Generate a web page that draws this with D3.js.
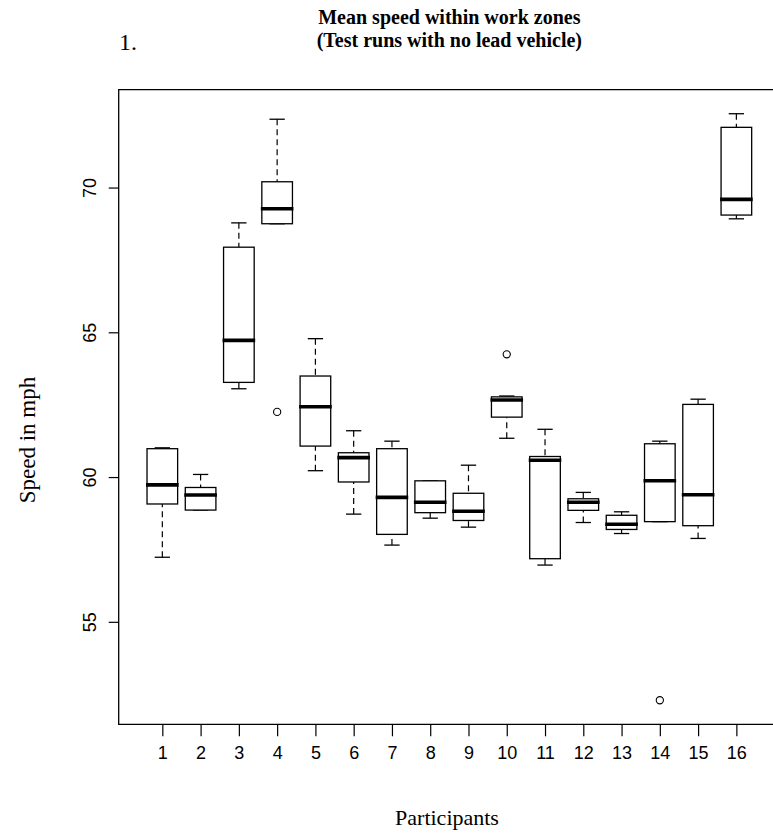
<!DOCTYPE html>
<html>
<head>
<meta charset="utf-8">
<script src="https://cdnjs.cloudflare.com/ajax/libs/d3/7.8.5/d3.min.js"></script>
<style>
  html, body { margin: 0; padding: 0; background: #fff; overflow: hidden; }
  svg { display: block; }
  .tick text { font-family: "Liberation Sans", Arial, sans-serif; }
</style>
</head>
<body>
<div id="chart"></div>
<script>
// Participants and the five box statistics per participant (mph)
var participants = [1, 2, 3, 4, 5, 6, 7, 8, 9, 10, 11, 12, 13, 14, 15, 16];
var lowWhisker = [57.23, 58.86, 63.05, 68.75, 60.22, 58.72, 57.65, 58.58, 58.27, 61.34, 56.96, 58.43, 58.05, 58.46, 57.88, 68.92];
var lowerQuart = [59.07, 58.86, 63.27, 68.75, 61.07, 59.83, 58.02, 58.77, 58.50, 62.07, 57.18, 58.85, 58.19, 58.46, 58.32, 69.05];
var medians    = [59.73, 59.38, 64.72, 69.27, 62.43, 60.67, 59.30, 59.13, 58.82, 62.66, 60.58, 59.13, 58.37, 59.87, 59.39, 69.59];
var upperQuart = [60.98, 59.64, 67.94, 70.20, 63.49, 60.84, 60.98, 59.87, 59.44, 62.77, 60.71, 59.25, 58.68, 61.15, 62.51, 72.08];
var highWhisker = [61.01, 60.09, 68.78, 72.36, 64.78, 61.60, 61.24, 59.87, 60.41, 62.80, 61.65, 59.47, 58.80, 61.24, 62.69, 72.55];
// outliers: [participant, value]
var outliers = [[4, 62.25], [10, 64.24], [14, 52.29]];
var yTicks = [55, 60, 65, 70];

var width = 773;
var height = 834;

var svg = d3
  .select("#chart")
  .append("svg")
  .attr("width", width)
  .attr("height", height)
  .style("overflow", "hidden");

var plotLeft = 118.7;
var plotRight = 780;   // right edge falls outside the picture
var plotTop = 89.7;
var plotBottom = 724.3;

// R style: xlim 0.5..16.5 widened by 4%
var xScale = d3.scaleLinear().domain([-0.14, 17.14]).range([plotLeft, plotRight]);
var yScale = d3.scaleLinear().domain([51.46, 73.38]).range([plotBottom, plotTop]);

var unit = xScale(1) - xScale(0);
var boxW = unit * 0.8;
var capW = boxW / 2;

var data = participants.map(function(p, i) {
  return {
    id: p,
    lw: lowWhisker[i],
    q1: lowerQuart[i],
    med: medians[i],
    q3: upperQuart[i],
    hw: highWhisker[i]
  };
});

// Frame (left, top, bottom; the right side is cut off)
svg
  .append("path")
  .attr("d", "M" + width + "," + plotTop + "H" + plotLeft + "V" + plotBottom + "H" + width)
  .attr("fill", "none")
  .attr("stroke", "#000")
  .attr("stroke-width", 1.3);

// Axes
var xAxis = d3.axisBottom(xScale).tickValues(participants).tickSize(12).tickPadding(10).tickFormat(d3.format("d"));
var yAxis = d3.axisLeft(yScale).tickValues(yTicks).tickSize(10).tickPadding(8).tickFormat(d3.format("d"));

var gx = svg
  .append("g")
  .attr("transform", "translate(0," + plotBottom + ")")
  .call(xAxis);
gx.select(".domain").remove();
gx.selectAll(".tick line").attr("stroke-width", 1.2);
gx.selectAll(".tick text").attr("font-size", 18).attr("fill", "#000");

var gy = svg
  .append("g")
  .attr("transform", "translate(" + plotLeft + ",0)")
  .call(yAxis);
gy.select(".domain").remove();
gy.selectAll(".tick line").attr("stroke-width", 1.2);
gy.selectAll(".tick text")
  .attr("font-size", 18)
  .attr("fill", "#000")
  .attr("text-anchor", "middle")
  .attr("x", null)
  .attr("dy", null)
  .attr("transform", "translate(-23,0) rotate(-90)");

// Boxes
var boxes = svg
  .selectAll("g.box")
  .data(data)
  .enter()
  .append("g")
  .attr("class", "box");

// whiskers (dashed)
boxes
  .append("line")
  .attr("x1", function(d) { return xScale(d.id); })
  .attr("x2", function(d) { return xScale(d.id); })
  .attr("y1", function(d) { return yScale(d.hw); })
  .attr("y2", function(d) { return yScale(d.q3); })
  .attr("stroke", "#000")
  .attr("stroke-width", 1.2)
  .attr("stroke-dasharray", "6,4");
boxes
  .append("line")
  .attr("x1", function(d) { return xScale(d.id); })
  .attr("x2", function(d) { return xScale(d.id); })
  .attr("y1", function(d) { return yScale(d.lw); })
  .attr("y2", function(d) { return yScale(d.q1); })
  .attr("stroke", "#000")
  .attr("stroke-width", 1.2)
  .attr("stroke-dasharray", "6,4");

// staples
boxes
  .append("line")
  .attr("x1", function(d) { return xScale(d.id) - capW / 2; })
  .attr("x2", function(d) { return xScale(d.id) + capW / 2; })
  .attr("y1", function(d) { return yScale(d.hw); })
  .attr("y2", function(d) { return yScale(d.hw); })
  .attr("stroke", "#000")
  .attr("stroke-width", 1.3);
boxes
  .append("line")
  .attr("x1", function(d) { return xScale(d.id) - capW / 2; })
  .attr("x2", function(d) { return xScale(d.id) + capW / 2; })
  .attr("y1", function(d) { return yScale(d.lw); })
  .attr("y2", function(d) { return yScale(d.lw); })
  .attr("stroke", "#000")
  .attr("stroke-width", 1.3);

boxes
  .append("rect")
  .attr("x", function(d) { return xScale(d.id) - boxW / 2; })
  .attr("y", function(d) { return yScale(d.q3); })
  .attr("width", boxW)
  .attr("height", function(d) { return yScale(d.q1) - yScale(d.q3); })
  .attr("fill", "#fff")
  .attr("stroke", "#000")
  .attr("stroke-width", 1.3);

// median
boxes
  .append("line")
  .attr("x1", function(d) { return xScale(d.id) - boxW / 2 - 1; })
  .attr("x2", function(d) { return xScale(d.id) + boxW / 2 + 1; })
  .attr("y1", function(d) { return yScale(d.med); })
  .attr("y2", function(d) { return yScale(d.med); })
  .attr("stroke", "#000")
  .attr("stroke-width", 3.6);

// outlier points
svg
  .selectAll("circle.out")
  .data(outliers)
  .enter()
  .append("circle")
  .attr("class", "out")
  .attr("cx", function(d) { return xScale(d[0]); })
  .attr("cy", function(d) { return yScale(d[1]); })
  .attr("r", 3.6)
  .attr("fill", "none")
  .attr("stroke", "#000")
  .attr("stroke-width", 1.1);

// Titles and labels
var plotMid = (plotLeft + plotRight) / 2;
svg.append("text")
  .attr("x", plotMid)
  .attr("y", 24)
  .attr("text-anchor", "middle")
  .attr("font-family", "Liberation Serif, Times New Roman, serif")
  .attr("font-weight", "bold")
  .attr("font-size", 20)
  .text("Mean speed within work zones");
svg.append("text")
  .attr("x", plotMid)
  .attr("y", 47)
  .attr("text-anchor", "middle")
  .attr("font-family", "Liberation Serif, Times New Roman, serif")
  .attr("font-weight", "bold")
  .attr("font-size", 20)
  .text("(Test runs with no lead vehicle)");
svg.append("text")
  .attr("x", 119)
  .attr("y", 50)
  .attr("font-family", "Liberation Serif, Times New Roman, serif")
  .attr("font-size", 24)
  .text("1.");

svg.append("text")
  .attr("x", 447)
  .attr("y", 825)
  .attr("text-anchor", "middle")
  .attr("font-family", "Liberation Serif, Times New Roman, serif")
  .attr("font-size", 22)
  .text("Participants");
svg.append("text")
  .attr("transform", "translate(35," + 440 + ") rotate(-90)")
  .attr("text-anchor", "middle")
  .attr("font-family", "Liberation Serif, Times New Roman, serif")
  .attr("font-size", 23)
  .text("Speed in mph");
</script>
</body>
</html>
